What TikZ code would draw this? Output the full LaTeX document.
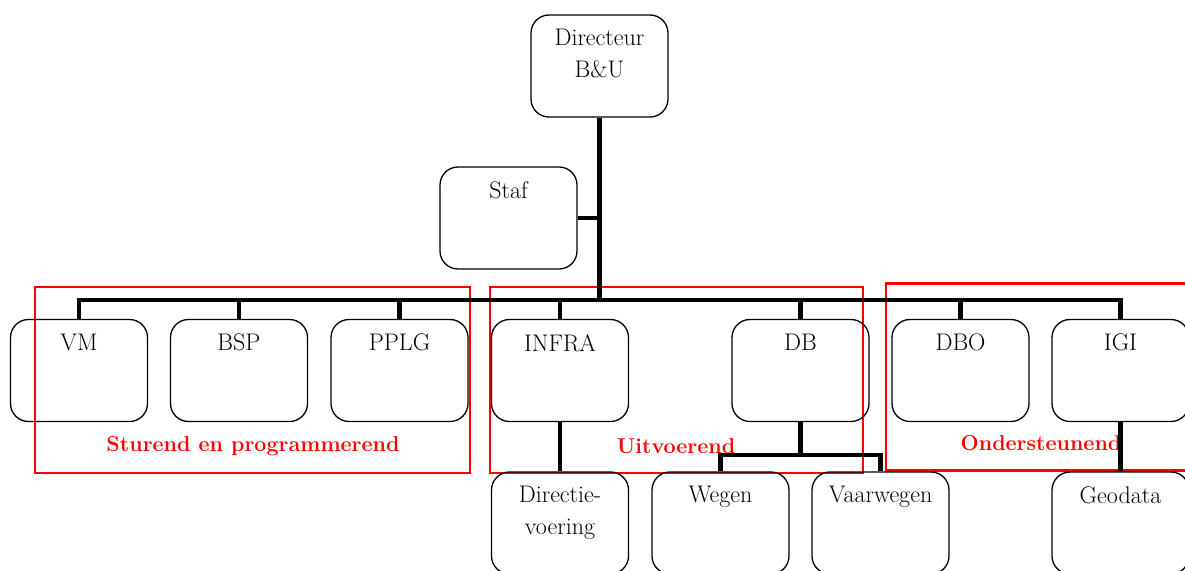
\documentclass[tikz,border=0pt]{standalone}
\usepackage{fontspec}
\begin{document}
\begin{tikzpicture}[x=1pt,y=-1pt,
  box/.style={draw,line width=1.3pt,rounded corners=18pt,minimum width=137pt,minimum height=102pt,inner sep=0pt},
  btxt/.style={anchor=north,inner sep=0pt,yshift=-15pt,align=center,font=\fontsize{24}{32}\selectfont},
  grp/.style={draw=red,line width=2.6pt,inner sep=0pt},
  grptxt/.style={text=red,font=\fontsize{21.5}{25}\selectfont\bfseries,inner sep=0pt},
  conn/.style={line width=4.5pt,line join=miter}]
\useasboundingbox (0,0) rectangle (1185,570);
% groups
\node[grp,minimum width=435pt,minimum height=186pt] (g1) at (252.5,380) {};
\node[grp,minimum width=373pt,minimum height=186pt] (g2) at (676.5,380) {};
\node[grp,minimum width=310pt,minimum height=187pt] (g3) at (1041,377) {};
\node[grptxt] (t1) at (253,446) {Sturend en programmerend};
\node[grptxt] (t2) at (676,446) {Uitvoerend};
\node[grptxt] (t3) at (1041,443) {Ondersteunend};
% boxes
\node[box,label={[btxt]north:Directeur\\B\&U}] (dir) at (599.5,66) {};
\node[box,label={[btxt]north:Staf}] (staf) at (508.5,218) {};
\node[box,label={[btxt]north:VM}] (vm) at (79,370.5) {};
\node[box,label={[btxt]north:BSP}] (bsp) at (239,370.5) {};
\node[box,label={[btxt]north:PPLG}] (pplg) at (399.5,370.5) {};
\node[box,label={[btxt]north:INFRA}] (infra) at (560,370.5) {};
\node[box,label={[btxt]north:DB}] (db) at (800.5,370.5) {};
\node[box,label={[btxt]north:DBO}] (dbo) at (960.5,370.5) {};
\node[box,label={[btxt]north:IGI}] (igi) at (1120.5,370.5) {};
\node[box,label={[btxt]north:Directie-\\voering}] (dv) at (560,523) {};
\node[box,label={[btxt]north:Wegen}] (weg) at (720.5,523) {};
\node[box,label={[btxt]north:Vaarwegen}] (vaar) at (880.5,523) {};
\node[box,label={[btxt]north:Geodata}] (geo) at (1120.5,523) {};
% connectors
\coordinate (bus) at (599.5,300);
\coordinate (dbj) at (800.5,455);
\draw[conn] (dir.south) -- (bus);
\draw[conn] (staf.east) -- (staf.east -| dir.south);
\draw[conn] (vm.north) -- (vm.north |- bus) -- (igi.north |- bus) -- (igi.north);
\foreach \n in {bsp,pplg,infra,db,dbo} \draw[conn] (\n.north) -- (\n.north |- bus);
\draw[conn] (infra.south) -- (dv.north);
\draw[conn] (igi.south) -- (geo.north);
\draw[conn] (db.south) -- (dbj);
\draw[conn] (weg.north) -- (weg.north |- dbj) -- (vaar.north |- dbj) -- (vaar.north);
\end{tikzpicture}
\end{document}
